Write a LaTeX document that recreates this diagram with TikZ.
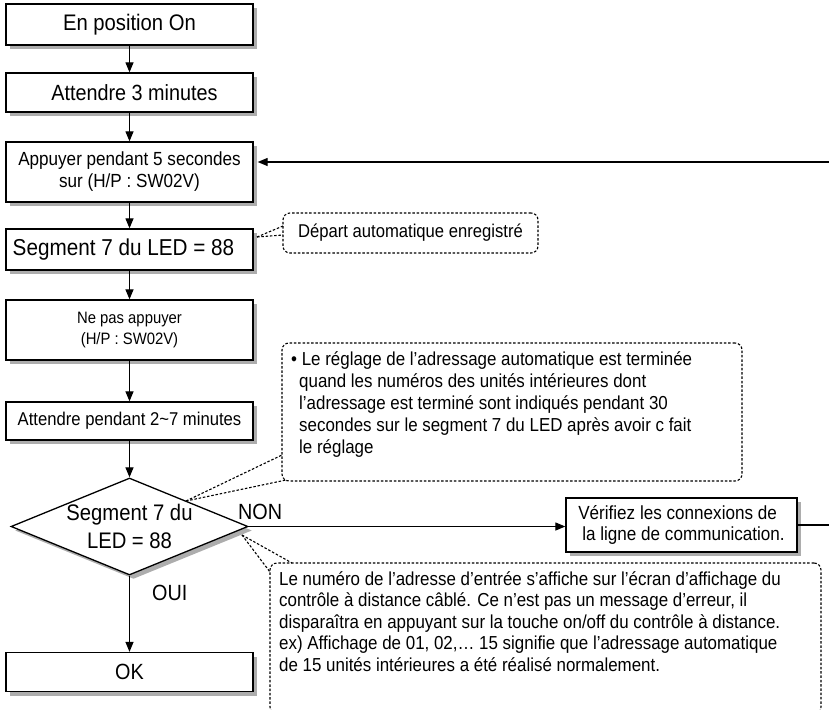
\documentclass[tikz,border=0pt]{standalone}
\usepackage{fontspec}
\setmainfont[FakeStretch=0.9]{Liberation Sans}
\usetikzlibrary{shapes.geometric,arrows.meta,shadows}
\newcommand{\fsz}[2]{\fontsize{#1pt}{#2pt}\selectfont}
\begin{document}
\begin{tikzpicture}[x=1pt,y=-1pt,
  shadowbox/.style={draw=black, line width=1.3pt, fill=white,
    drop shadow={shadow xshift=4pt, shadow yshift=-4pt, fill=black!32, opacity=1}},
  stepbox/.style={shadowbox, rectangle, minimum width=247pt, inner sep=0pt, align=center},
  flow/.style={line width=1.2pt, -{Triangle[length=10pt,width=8pt]}},
  plain/.style={line width=1.2pt},
  note/.style={draw=black, line width=1.1pt, dash pattern=on 2.5pt off 1.8pt, rounded corners=7pt},
  notel/.style={line width=1.1pt, dash pattern=on 2.5pt off 1.8pt},
  lbl/.style={inner sep=0pt, font=\fsz{22}{26}}]
\useasboundingbox (0,0) rectangle (829,709);
\clip (0,0) rectangle (829,709);

% main column
\node[stepbox, minimum height=41pt, font=\fsz{22.5}{26}] (b1) at (129.5,24.5) {En position On};
\node[stepbox, minimum height=39pt, font=\fsz{22}{26}] (b2) at (129.5,92.5) {\hspace*{10pt}Attendre 3 minutes};
\node[stepbox, minimum height=60pt, font=\fsz{19}{22}] (b3) at (129.5,172) {Appuyer pendant 5 secondes\\sur (H/P : SW02V)};
\node[stepbox, minimum height=41pt, font=\fsz{23}{27}] (b4) at (129.5,249.5) {Segment 7 du LED = 88\hspace*{12pt}};
\node[stepbox, minimum height=60pt, font=\fsz{16.5}{21.5}] (b5) at (129.5,330) {Ne pas appuyer\\(H/P : SW02V)};
\node[stepbox, minimum height=38pt, font=\fsz{18.5}{22}] (b6) at (129.5,421) {Attendre pendant 2\textasciitilde7 minutes};
\node[shadowbox, diamond, aspect=2.44, minimum width=237pt, minimum height=97pt, inner sep=0pt,
      align=center, font=\fsz{22.5}{28}] (dia) at (129.5,526.5) {Segment 7 du\\LED = 88};
\node[stepbox, minimum height=39pt, font=\fsz{22}{26}] (ok) at (129.5,672) {OK};
\node[shadowbox, rectangle, minimum width=231pt, minimum height=54pt, inner sep=0pt, align=left,
      font=\fsz{19}{21.5}] (chk) at (681.5,525) {V\'erifiez les connexions de\\\hspace*{4pt}la ligne de communication.};

% connectors
\draw[flow] (b1) -- (b2);
\draw[flow] (b2) -- (b3);
\draw[flow] (b3) -- (b4);
\draw[flow] (b4) -- (b5);
\draw[flow] (b5) -- (b6);
\draw[flow] (b6) -- (dia);
\draw[flow] (dia) -- (ok);
\draw[flow] (dia.east) -- (dia.east -| chk.west);
\coordinate (redge) at (829,162);
\coordinate (redge2) at (829,525);
\draw[flow] (redge) -- ([xshift=4pt]b3.east |- redge);
\draw[plain] (chk.east) -- (redge2);
\node[lbl, anchor=west] (non) at (238,512) {NON};
\node[lbl, anchor=west] (oui) at (152,593) {OUI};

% note 1
\node[note, minimum width=255pt, minimum height=40pt, inner sep=0pt, font=\fsz{18.5}{22}] (n1) at (410.5,233) {D\'epart automatique enregistr\'e};
\coordinate (w1a) at (257,237);
\coordinate (w1b) at (283,226);
\coordinate (w1c) at (283,235);
\draw[notel] (w1a) -- (w1b);
\draw[notel] (w1a) -- (w1c);

% note 2
\node[note, minimum width=460pt, minimum height=138pt, inner sep=0pt] (n2) at (512,412) {};
\node[anchor=north west, inner sep=0pt, align=left, font=\fsz{18.8}{22}] (n2t) at (291,351)
 {\textbullet\ Le r\'eglage de l’adressage automatique est termin\'ee\\
  \hspace*{8pt}quand les num\'eros des unit\'es int\'erieures dont\\
  \hspace*{8pt}l’adressage est termin\'e sont indiqu\'es pendant 30\\
  \hspace*{8pt}secondes sur le segment 7 du LED apr\`es avoir c fait\\
  \hspace*{8pt}le r\'eglage};
\coordinate (w2a) at (186,501);
\coordinate (w2b) at (282,455);
\coordinate (w2c) at (286,480);
\draw[notel] (w2a) -- (w2b);
\draw[notel] (w2a) -- (w2c);

% note 3
\node[note, minimum width=551pt, minimum height=151pt, inner sep=0pt] (n3) at (545.5,638.5) {};
\node[anchor=north west, inner sep=0pt, align=left, font=\fsz{18.8}{21.5}] (n3t) at (279,571)
 {Le num\'ero de l’adresse d’entr\'ee s’affiche sur l’\'ecran d’affichage du\\
  contr\^ole \`a distance c\^abl\'e. Ce n’est pas un message d’erreur, il\\
  dispara\^itra en appuyant sur la touche on/off du contr\^ole \`a distance.\\
  ex) Affichage de 01, 02,… 15 signifie que l’adressage automatique\\
  de 15 unit\'es int\'erieures a \'et\'e r\'ealis\'e normalement.};
\coordinate (w3a) at (242,535);
\coordinate (w3b) at (292,563);
\coordinate (w3c) at (270,572);
\draw[notel] (w3a) -- (w3b);
\draw[notel] (w3a) -- (w3c);
\end{tikzpicture}
\end{document}
